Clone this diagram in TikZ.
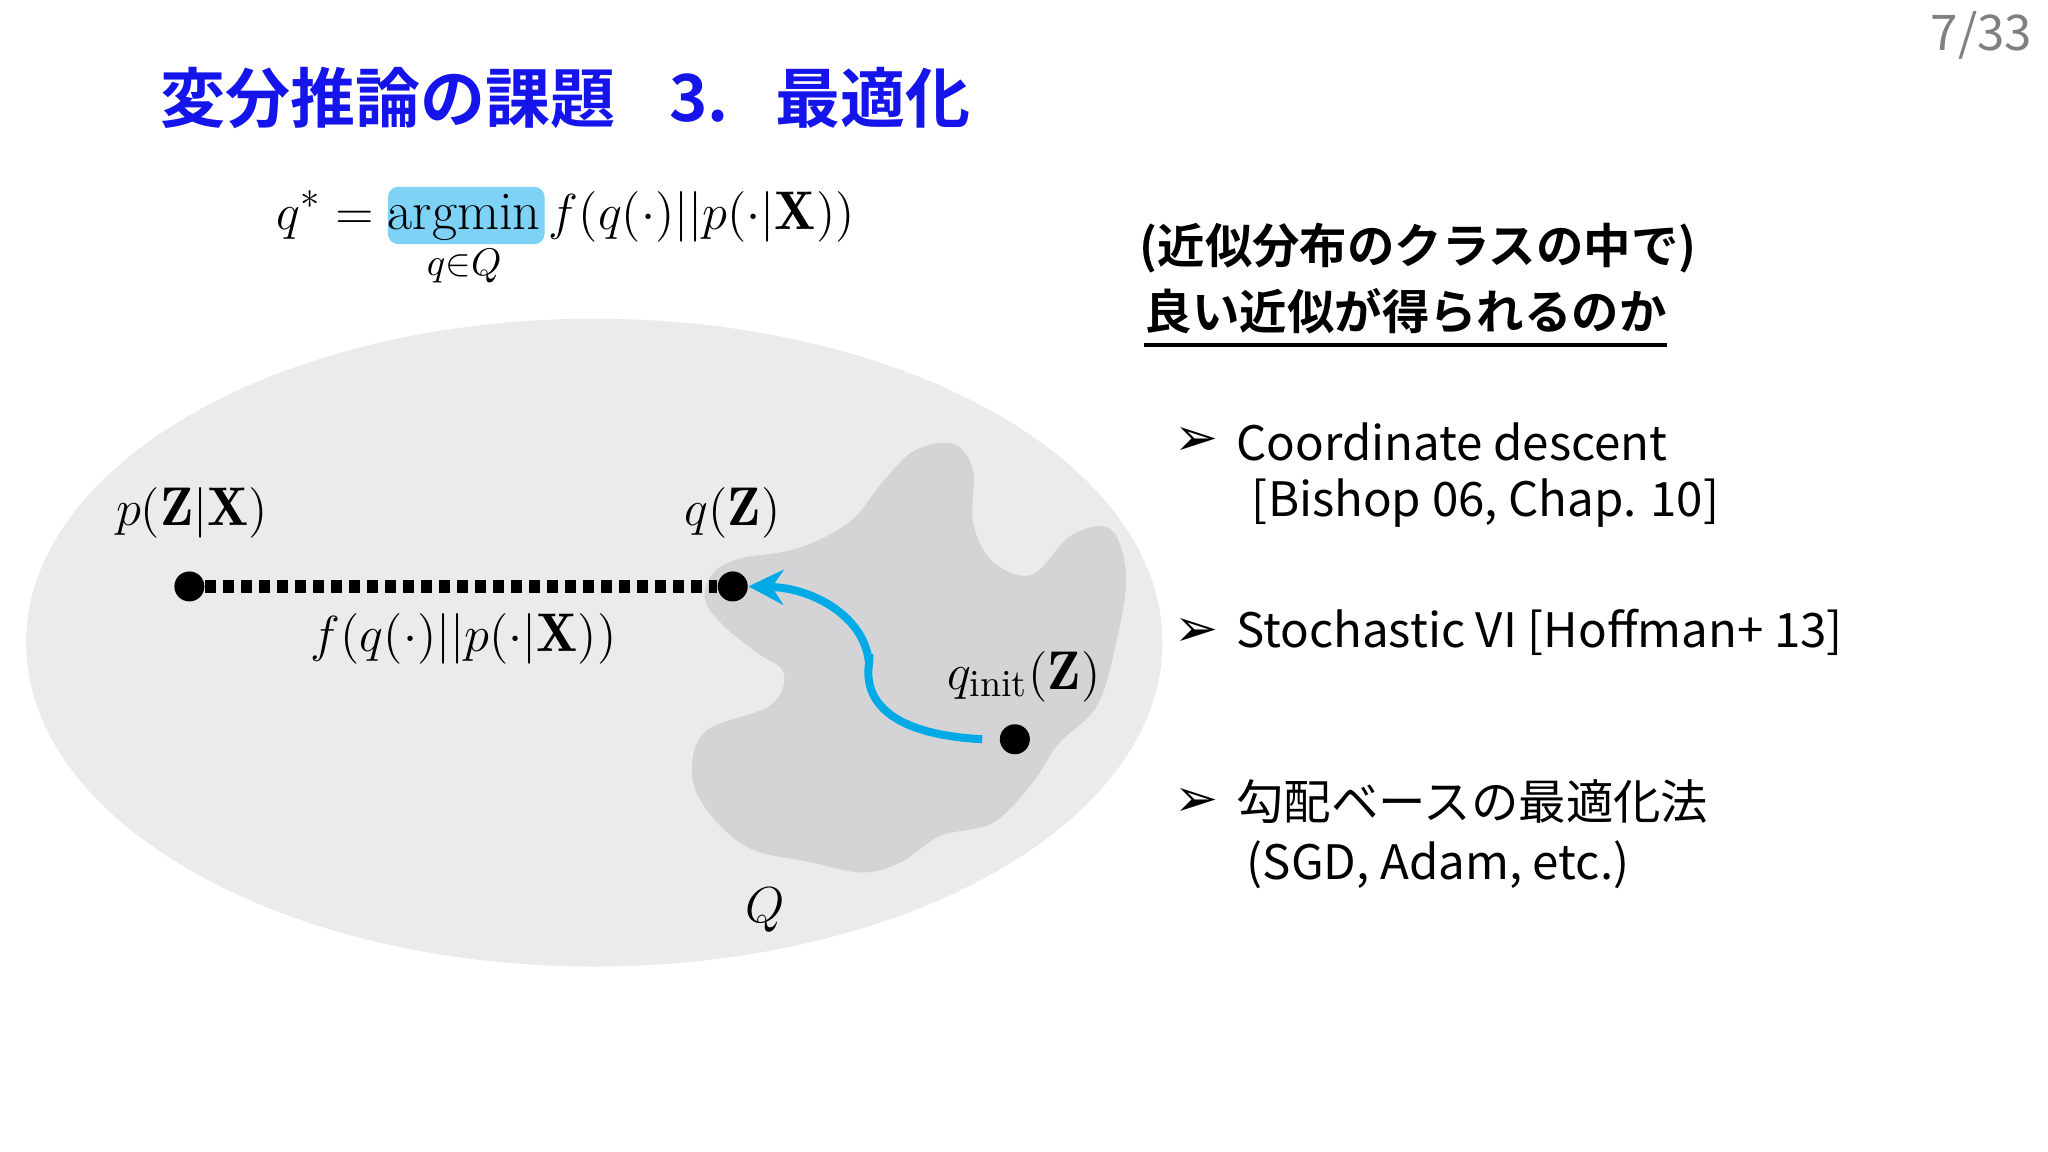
\documentclass[tikz,border=0pt]{standalone}
\usepackage{fontspec}
\usepackage{amsmath}
\usetikzlibrary{arrows.meta}
\newfontfamily\jp{Noto Sans CJK JP}
\newfontfamily\jpb{Noto Sans CJK JP Bold}
\newfontfamily\dv{DejaVu Sans}
\definecolor{ttl}{RGB}{20,20,235}
\definecolor{hl}{RGB}{125,210,245}
\definecolor{arr}{RGB}{0,170,230}
\definecolor{ell}{RGB}{235,235,237}
\definecolor{blob}{RGB}{212,212,215}
\begin{document}
\begin{tikzpicture}[x=0.013061cm,y=-0.013061cm,
  dot/.style={circle,fill=black,inner sep=0pt,minimum size=0.3cm},
  mlab/.style={font=\fontsize{15.5}{17}\selectfont},
  rt/.style={anchor=west,font=\jp\fontsize{13.5}{15}\selectfont,inner sep=0pt},
  bul/.style={font=\dv\fontsize{15}{16}\selectfont,inner sep=0pt},
  tt/.style={anchor=west,ttl,font=\jpb\fontsize{18.5}{20}\selectfont,inner sep=0pt}]
\useasboundingbox (0,0) rectangle (1568,882);
\node[gray,font=\jp\fontsize{14}{16}\selectfont] (pg) at (1517,27) {7/33};
\node[tt] (title) at (122,75) {変分推論の課題};
\node[tt] (title2) at (512,75) {3.};
\node[tt] (title3) at (593,75) {最適化};
% formula
\fill[hl,rounded corners=3pt] (297,143) rectangle (417,187);
\node[mlab,anchor=west,inner sep=0pt] (form) at (211,183) {$\displaystyle q^{*} = \operatorname*{argmin}_{q\in Q} f(q(\cdot)||p(\cdot|\mathbf{X}))$};
% ellipse and blob
\fill[ell] (455,492) ellipse [x radius=435, y radius=248];
\fill[blob] plot[smooth cycle,tension=0.6] coordinates {(545,440)(565,428)(610,420)(650,400)(675,370)(700,345)(730,340)(745,360)(745,400)(760,430)(790,440)(820,410)(850,405)(862,440)(855,490)(840,540)(810,570)(790,600)(760,630)(720,640)(690,660)(660,668)(620,660)(575,650)(545,625)(530,595)(540,560)(590,540)(600,515)(580,500)(555,480)(540,460)};
% points
\node[dot] (p) at (145,449) {};
\node[dot] (q) at (561,449) {};
\node[dot] (qi) at (777,566) {};
\draw[line width=0.13cm,dash pattern=on 0.11cm off 0.07cm] (p) -- (q);
\draw[arr,line width=0.08cm,-{Stealth[length=0.35cm,width=0.35cm]}] (752,566) .. controls (640,560) and (670,500) .. (665,505) .. controls (660,470) and (620,450) .. (q.east);
\node[mlab] (lp) at (147,393) {$p(\mathbf{Z}|\mathbf{X})$};
\node[mlab] (lq) at (561,393) {$q(\mathbf{Z})$};
\node[mlab] (lf) at (355,489) {$f(q(\cdot)||p(\cdot|\mathbf{X}))$};
\node[mlab] (lqi) at (784,518) {$q_{\mathrm{init}}(\mathbf{Z})$};
\node[mlab] (lQ) at (586,697) {$Q$};
% right text
\node[rt,font=\jpb\fontsize{13.5}{15}\selectfont] (h1) at (872,190) {(近似分布のクラスの中で)};
\node[rt,font=\jpb\fontsize{13.5}{15}\selectfont] (h2) at (876,238) {良い近似が得られるのか};
\draw[line width=0.9pt] ([yshift=-3pt]h2.south west) -- ([yshift=-3pt]h2.south east);
\node[bul] (b1) at (916,338) {➢};
\node[rt] (t1) at (946,338) {Coordinate descent};
\node[rt] (t1b) at (958,385) {[Bishop 06, Chap. 10]};
\node[bul] (b2) at (916,484) {➢};
\node[rt] (t2) at (946,484) {Stochastic VI [Hoffman+ 13]};
\node[bul] (b3) at (916,614) {➢};
\node[rt] (t3) at (946,614) {勾配ベースの最適化法};
\node[rt] (t3b) at (954,662) {(SGD, Adam, etc.)};
\end{tikzpicture}
\end{document}
